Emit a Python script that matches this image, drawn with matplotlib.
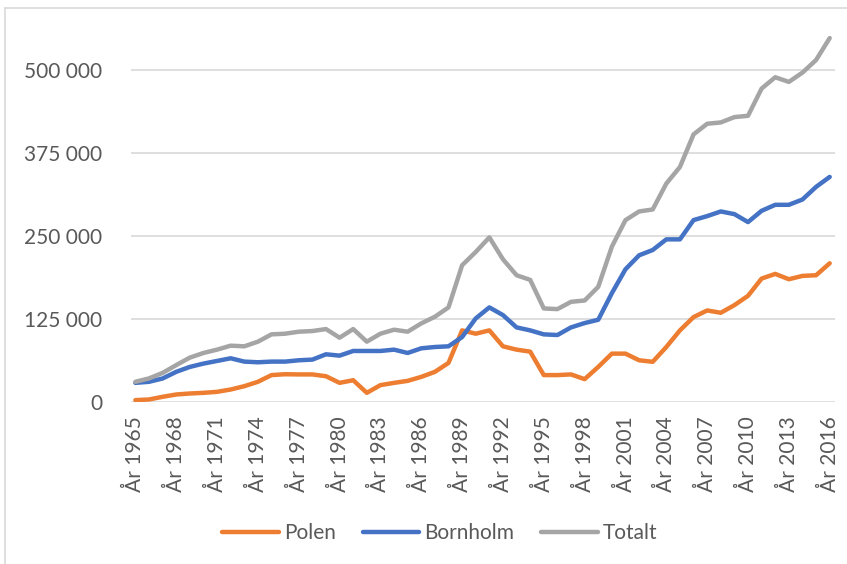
import matplotlib
matplotlib.use("Agg")
import matplotlib.pyplot as plt
from matplotlib.lines import Line2D
from matplotlib.ticker import FuncFormatter

years = list(range(1965, 2017))

polen = [3000, 4000, 8000, 11500, 13000, 14000, 15500, 19000, 24000, 30600,
         40700, 42000, 41700, 41700, 39000, 29000, 33000, 14000, 25600, 29000,
         32000, 38000, 45600, 59000, 108000, 103000, 108000, 84000, 79000, 76000,
         40700, 40700, 41700, 34600, 53000, 73000, 73000, 63000, 60700, 83000,
         108000, 128000, 138000, 134500, 146000, 160000, 186000, 193000, 185000, 190000,
         191000, 209000]

bornholm = [29000, 30600, 35600, 45600, 53000, 58000, 62000, 66000, 61000, 60000,
            61000, 61000, 63000, 64000, 72000, 70000, 77000, 77000, 77000, 79000,
            74000, 81000, 83000, 84000, 98000, 126000, 142600, 131000, 112500, 108000,
            102000, 101000, 112500, 119000, 124000, 164000, 200000, 221000, 229000, 245000,
            245000, 274000, 280000, 287000, 283000, 271000, 288000, 297000, 297000, 305000,
            324000, 339000]

totalt = [30600, 35700, 44000, 55700, 67000, 74000, 79000, 85000, 84000, 91000,
          102000, 103000, 106000, 107000, 110000, 97000, 110000, 91000, 103000, 109000,
          106000, 118500, 128500, 142600, 206000, 226000, 248000, 215000, 191000, 184000,
          141000, 140000, 151000, 153000, 173600, 234000, 274000, 287000, 290000, 329000,
          354000, 403000, 419000, 421000, 429000, 431000, 472000, 489000, 482000, 496000,
          515000, 548000]

series = [("Polen", polen, "#ED7D31"),
          ("Bornholm", bornholm, "#4472C4"),
          ("Totalt", totalt, "#A5A5A5")]

plt.rcParams['font.family'] = ['Lato', 'DejaVu Sans']
fs = 15

fig = plt.figure(figsize=(8.47, 5.64), dpi=100)
ax = fig.add_axes([0.155, 0.287, 0.831, 0.695])

for name, vals, color in series:
    ax.plot(years, vals, color=color, lw=3.2, label=name, solid_capstyle='round')

ax.set_xlim(1964.7, 2016.4)
ax.set_ylim(0, 590000)
ax.set_yticks([0, 125000, 250000, 375000, 500000])
ax.yaxis.set_major_formatter(FuncFormatter(lambda v, p: f"{int(v):,}".replace(",", " ")))
ax.set_xticks(years[::3])
ax.set_xticklabels([f"År {y}" for y in years[::3]], rotation=90)

ax.grid(axis='y', color='#d9d9d9', lw=1.2)
ax.set_axisbelow(True)
for s in ax.spines.values():
    s.set_visible(False)
ax.tick_params(axis='y', length=0, pad=21, labelsize=fs, labelcolor='#595959')
ax.tick_params(axis='x', length=0, pad=10, labelsize=fs, labelcolor='#595959')

ax.legend(loc='center', bbox_to_anchor=(440 / 847, 1 - 533 / 564),
          bbox_transform=fig.transFigure, ncol=3, frameon=False,
          handlelength=2.7, handletextpad=0.25, columnspacing=1.3,
          fontsize=fs, labelcolor='#595959')

# chart border
fig.add_artist(Line2D([5 / 847, 1], [1 - 8 / 564, 1 - 8 / 564], color='#d9d9d9', lw=1.2))
fig.add_artist(Line2D([5 / 847, 5 / 847], [0, 1 - 8 / 564], color='#d9d9d9', lw=1.2))

fig.savefig("out.png", dpi=100)
